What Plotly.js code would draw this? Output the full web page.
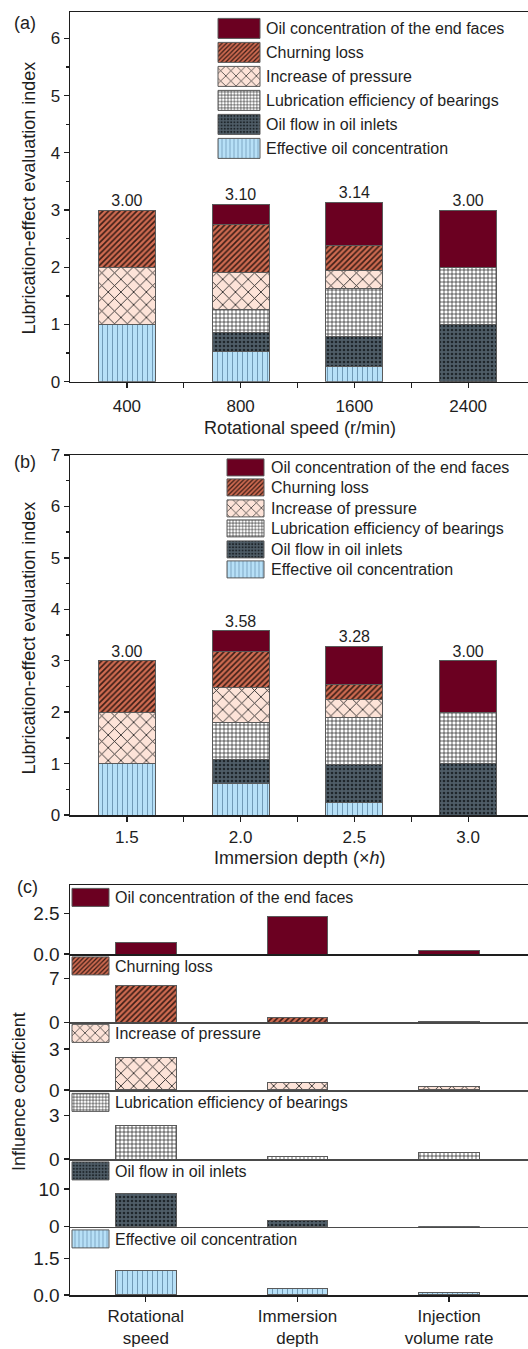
<!DOCTYPE html>
<html>
<head>
<meta charset="utf-8">
<script src="https://cdn.plot.ly/plotly-3.0.1.min.js"></script>
<style>
  html, body { margin: 0; padding: 0; background: #fff; }
  #chart { width: 528px; height: 1349px; }
</style>
</head>
<body>
<div id="chart"></div>
<script>
// ---- data -------------------------------------------------------------
const speeds = ['400', '800', '1600', '2400'];
const depths = ['1.5', '2.0', '2.5', '3.0'];
const factors = ['Rotational<br>speed', 'Immersion<br>depth', 'Injection<br>volume rate'];

const seriesNames = [
  'Effective oil concentration',
  'Oil flow in oil inlets',
  'Lubrication efficiency of bearings',
  'Increase of pressure',
  'Churning loss',
  'Oil concentration of the end faces'
];

// (a) evaluation index vs rotational speed
const speedEffective   = [1.00, 0.52, 0.27, 0.00];
const speedOilFlow     = [0.00, 0.34, 0.52, 1.00];
const speedLubrication = [0.00, 0.41, 0.83, 1.00];
const speedPressure    = [1.00, 0.64, 0.32, 0.00];
const speedChurning    = [1.00, 0.84, 0.44, 0.00];
const speedEndFaces    = [0.00, 0.35, 0.76, 1.00];

// (b) evaluation index vs immersion depth
const depthEffective   = [1.00, 0.62, 0.24, 0.00];
const depthOilFlow     = [0.00, 0.45, 0.75, 1.00];
const depthLubrication = [0.00, 0.73, 0.90, 1.00];
const depthPressure    = [1.00, 0.68, 0.35, 0.00];
const depthChurning    = [1.00, 0.69, 0.30, 0.00];
const depthEndFaces    = [0.00, 0.41, 0.74, 1.00];

// (c) influence coefficients per factor
const inflEffective   = [1.02, 0.27, 0.09];
const inflOilFlow     = [8.86, 1.60, 0.10];
const inflLubrication = [2.35, 0.20, 0.44];
const inflPressure    = [2.41, 0.56, 0.24];
const inflChurning    = [5.98, 0.80, 0.10];
const inflEndFaces    = [0.70, 2.29, 0.20];

// ---- styles -----------------------------------------------------------
const W = 528, H = 1349;
const FONT = 'Liberation Sans, Arial, sans-serif';
const INK = '#1e1e1e';
const py = p => 1 - p / H;
const px = p => p / W;

const styles = [
  { bg: '#b7e0f7', fg: '#5f88a6', shape: '|', size: 5, solidity: 0.16 },
  { bg: '#4f5d67', fg: '#1f262b', shape: '.', size: 4, solidity: 0.35 },
  { bg: '#ffffff', fg: '#151515', shape: '+', size: 4, solidity: 0.3 },
  { bg: '#fde3d8', fg: '#222222', shape: 'x', size: 9, solidity: 0.18 },
  { bg: '#cf6b51', fg: '#3b1d16', shape: '/', size: 4, solidity: 0.4 },
  { bg: '#6b0021', fg: '#6b0021', shape: '', size: 5, solidity: 0.3 }
];

function markerFor(i) {
  const s = styles[i];
  const m = { color: s.bg, line: { color: '#5a5a5a', width: 1 } };
  if (s.shape) {
    m.pattern = { shape: s.shape, bgcolor: s.bg, fgcolor: s.fg, size: s.size,
                  solidity: s.solidity, fillmode: 'replace' };
  }
  return m;
}

const traces = [];

function stackedPanel(cats, series, xa, ya, legendBase) {
  const idx = cats.map((_, i) => i);
  series.forEach((vals, i) => {
    const n = legendBase + (5 - i);
    traces.push({
      type: 'bar', x: idx, y: vals, width: 0.5, name: seriesNames[i],
      xaxis: xa, yaxis: ya, marker: markerFor(i),
      legend: n === 1 ? 'legend' : 'legend' + n,
      showlegend: true, hoverinfo: 'skip'
    });
  });
  const totals = idx.map(k => Math.round(series.reduce((s, v) => s + v[k], 0) * 100) / 100);
  traces.push({
    type: 'scatter', mode: 'text', x: idx, y: totals,
    text: totals.map(t => t.toFixed(2)), textposition: 'top center',
    textfont: { size: 16, color: INK, family: FONT },
    xaxis: xa, yaxis: ya, showlegend: false, cliponaxis: false, hoverinfo: 'skip'
  });
}

stackedPanel(speeds,
  [speedEffective, speedOilFlow, speedLubrication, speedPressure, speedChurning, speedEndFaces],
  'x', 'y', 1);
stackedPanel(depths,
  [depthEffective, depthOilFlow, depthLubrication, depthPressure, depthChurning, depthEndFaces],
  'x2', 'y2', 7);

// (c): one small panel per indicator, top panel = end faces
const inflSeries = [inflEffective, inflOilFlow, inflLubrication, inflPressure, inflChurning, inflEndFaces];
const factorIdx = factors.map((_, i) => i);
inflSeries.forEach((vals, i) => {
  const k = 8 - i;          // effective -> x8/y8 (bottom), end faces -> x3/y3 (top)
  traces.push({
    type: 'bar', x: factorIdx, y: vals, width: 0.4, name: seriesNames[i],
    xaxis: 'x' + k, yaxis: 'y' + k, marker: markerFor(i),
    legend: 'legend' + (13 + (5 - i)), showlegend: true, hoverinfo: 'skip'
  });
});

// ---- axes -------------------------------------------------------------
const baseAxis = {
  showgrid: false, zeroline: false, showline: true, linecolor: INK, linewidth: 1.5,
  ticks: 'outside', ticklen: 5, tickwidth: 1.3, tickcolor: INK,
  tickfont: { size: 17, color: INK, family: FONT }
};

const layout = {
  width: W, height: H,
  margin: { l: 0, r: 0, t: 0, b: 0 },
  paper_bgcolor: '#fff', plot_bgcolor: '#fff',
  font: { family: FONT, color: INK, size: 16 },
  barmode: 'stack',
  showlegend: true,
  annotations: [],
  xaxis: Object.assign({}, baseAxis, {
    domain: [px(70), 1], range: [-0.5, 3.526], anchor: 'y', mirror: true,
    tickmode: 'array', tickvals: [0, 1, 2, 3], ticktext: speeds, ticklabelstandoff: 3,
    minor: { tickmode: 'array', tickvals: [0.5, 1.5, 2.5], ticks: 'outside', ticklen: 5, tickcolor: INK }
  }),
  yaxis: Object.assign({}, baseAxis, {
    domain: [py(381.7), py(12)], range: [0, 6.46], anchor: 'x', dtick: 1,
    minor: { dtick: 0.5, ticks: 'outside', ticklen: 3, tickcolor: INK }
  }),
  xaxis2: Object.assign({}, baseAxis, {
    domain: [px(70), 1], range: [-0.5, 3.526], anchor: 'y2', mirror: true,
    tickmode: 'array', tickvals: [0, 1, 2, 3], ticktext: depths, ticklabelstandoff: 1,
    minor: { tickmode: 'array', tickvals: [0.5, 1.5, 2.5], ticks: 'outside', ticklen: 5, tickcolor: INK }
  }),
  yaxis2: Object.assign({}, baseAxis, {
    domain: [py(815), py(455)], range: [0, 7], anchor: 'x2', dtick: 1,
    minor: { dtick: 0.5, ticks: 'outside', ticklen: 3, tickcolor: INK }
  })
};

// (c) sub-panels, top to bottom
const subTop    = [885, 954, 1022.3, 1090, 1159, 1226.7];
const subBottom = [954, 1022.3, 1090, 1159, 1226.7, 1295];
const subRange  = [4.24, 11.0, 4.95, 4.78, 18.0, 2.8];
const subTicks  = [[0, 2.5], [0, 7], [0, 3], [0, 3], [0, 10], [0, 1.5]];
const subFormat = ['.1f', 'd', 'd', 'd', 'd', '.1f'];
for (let j = 0; j < 6; j++) {
  const k = 3 + j;
  const last = j === 5;
  layout['xaxis' + k] = Object.assign({}, baseAxis, {
    domain: [px(70), 1], range: [-0.5, 2.52], anchor: 'y' + k,
    mirror: j === 0, linecolor: j === 0 || last ? INK : '#4a4a4a',
    tickmode: 'array', tickvals: factorIdx, ticktext: factors,
    showticklabels: last, ticks: last ? 'outside' : '', ticklabelstandoff: 0,
    tickfont: { size: 17, color: INK, family: FONT }
  });
  layout['yaxis' + k] = Object.assign({}, baseAxis, {
    domain: [py(subBottom[j]), py(subTop[j])], range: [0, subRange[j]], anchor: 'x' + k,
    tickmode: 'array', tickvals: subTicks[j], tickformat: subFormat[j],
    tickfont: { size: 19, color: INK, family: FONT }
  });
}

// ---- legends: one entry each so rows sit exactly where wanted ----------
function addLegend(n, xText, yCenter) {
  const key = n === 1 ? 'legend' : 'legend' + n;
  layout[key] = {
    x: px(xText - 62), y: py(yCenter), xanchor: 'left', yanchor: 'middle',
    bgcolor: 'rgba(0,0,0,0)', borderwidth: 0, itemwidth: 50,
    font: { size: 16, color: INK, family: FONT }
  };
}
[28, 52, 76, 100, 124, 148].forEach((y, i) => addLegend(1 + i, 268, y));
[467, 487, 508, 528, 549, 569].forEach((y, i) => addLegend(7 + i, 273, y));
[897, 965.5, 1033, 1102, 1170.5, 1238.5].forEach((y, i) => addLegend(13 + i, 117, y));

// key box size per legend group: [width, height, gap to label]
function keySize(n) {
  if (n <= 6) return [42, 20, 6];
  if (n <= 12) return [37, 17, 7];
  return [37, 18, 6];
}

// ---- text: panel letters and axis titles -------------------------------
function note(text, x, y, size, angle) {
  layout.annotations.push({
    text: text, x: px(x), y: py(y), xref: 'paper', yref: 'paper',
    xanchor: 'center', yanchor: 'middle', showarrow: false,
    textangle: angle || 0, font: { size: size, color: INK, family: FONT }
  });
}
note('(a)', 25, 23, 18);
note('(b)', 25, 462, 18);
note('(c)', 27, 887, 18);
note('Lubrication-effect evaluation index', 28.5, 198, 18, -90);
note('Lubrication-effect evaluation index', 28.5, 638, 18, -90);
note('Influence coefficient', 19, 1092, 18, -90);
note('Rotational speed (r/min)', 300, 428, 18);
note('Immersion depth (\u00d7<i>h</i>)', 300, 858, 18);

// ---- draw ---------------------------------------------------------------
const gd = document.getElementById('chart');

// wider legend keys that end just left of each label (local item coordinates)
function sizeLegendKeys() {
  gd.querySelectorAll('.scrollbox[clip-path]').forEach(s => s.removeAttribute('clip-path'));
  gd.querySelectorAll('g.traces').forEach(tr => {
    const holder = tr.closest('g[class^="legend"]');
    if (!holder) return;
    const cls = holder.getAttribute('class').split(' ')[0];
    const n = parseInt(cls.replace('legend', ''), 10) || 1;
    const [w, h, gap] = keySize(n);
    const txt = tr.querySelector('text');
    const tx = (txt && parseFloat(txt.getAttribute('x'))) || 56;
    tr.querySelectorAll('.legendpoints path').forEach(path => {
      let ox = 0, oy = 0;
      const t = path.transform && path.transform.baseVal.consolidate();
      if (t) { ox = t.matrix.e; oy = t.matrix.f; }
      const x1 = tx - gap - w - ox, x2 = tx - gap - ox;
      const y1 = -h / 2 + 0.5 - oy, y2 = h / 2 + 0.5 - oy;
      const d = `M${x1},${y1}H${x2}V${y2}H${x1}Z`;
      if (path.getAttribute('d') !== d) path.setAttribute('d', d);
    });
  });
}

const observer = new MutationObserver(sizeLegendKeys);
observer.observe(gd, { subtree: true, childList: true, attributes: true, attributeFilter: ['d', 'transform', 'x'] });

Plotly.newPlot(gd, traces, layout, { displayModeBar: false, staticPlot: true }).then(() => {
  sizeLegendKeys();
  gd.on('plotly_afterplot', sizeLegendKeys);
});
sizeLegendKeys();
</script>
</body>
</html>
